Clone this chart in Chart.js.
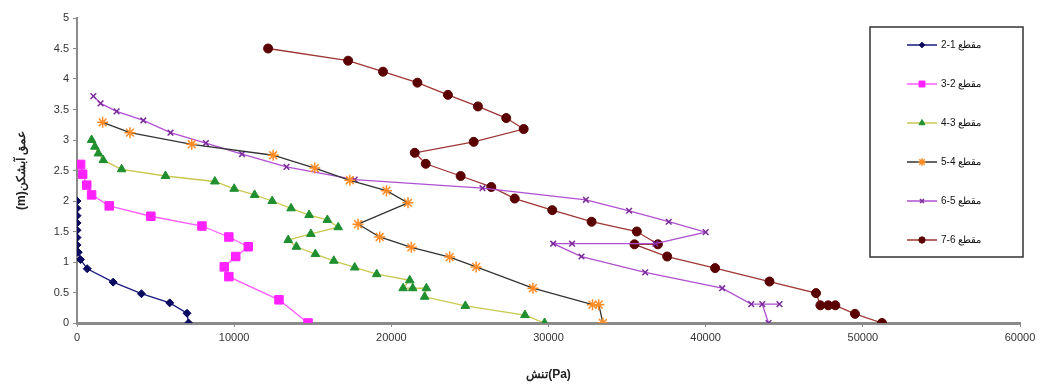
<!DOCTYPE html>
<html>
<head>
<meta charset="utf-8">
<script src="https://cdn.jsdelivr.net/npm/chart.js@4/dist/chart.umd.min.js"></script>
<style>
  html, body { margin: 0; padding: 0; background: #fff; }
  #wrap { width: 1045px; height: 388px; }
</style>
</head>
<body>
<div id="wrap"><canvas id="chart-depth"></canvas></div>
<script>
const sectionNames = ['2-1 مقطع', '3-2 مقطع', '4-3 مقطع', '5-4 مقطع', '6-5 مقطع', '7-6 مقطع'];
const xTicks = [0, 10000, 20000, 30000, 40000, 50000, 60000];
const yTicks = [0, 0.5, 1, 1.5, 2, 2.5, 3, 3.5, 4, 4.5, 5];

// stress (Pa) / depth (m) for each section
const stress1 = [0, 0, 0, 0, 0, 0, 0, 80, 220, 650, 2300, 4100, 5900, 7000, 7100];
const depth1 = [2.0, 1.88, 1.76, 1.64, 1.52, 1.4, 1.28, 1.16, 1.04, 0.89, 0.67, 0.48, 0.33, 0.16, 0];

const stress2 = [230, 360, 620, 930, 2050, 4700, 7950, 9660, 10900, 10100, 9370, 9660, 12850, 14700];
const depth2 = [2.6, 2.44, 2.26, 2.1, 1.92, 1.75, 1.59, 1.41, 1.25, 1.09, 0.92, 0.76, 0.38, 0];

const stress3 = [930, 1140, 1360, 1670, 2840, 5630, 8770, 10000, 11300, 12420, 13620, 14770, 15930, 16620,
    14880, 13440, 13960, 15170, 16340, 17670, 19070, 21170, 20750, 21360, 22230, 22120, 24710, 28500, 29750];
const depth3 = [3.0, 2.89, 2.78, 2.67, 2.52, 2.41, 2.32, 2.2, 2.1, 2.0, 1.88, 1.77, 1.69, 1.57,
    1.46, 1.36, 1.25, 1.13, 1.02, 0.91, 0.8, 0.7, 0.57, 0.57, 0.57, 0.43, 0.28, 0.13, 0];

const stress4 = [1630, 3370, 7300, 12480, 15130, 17360, 19690, 21060, 17880, 19260, 21270, 23710, 25400, 29010, 32800, 33200, 33460];
const depth4 = [3.29, 3.12, 2.93, 2.75, 2.54, 2.34, 2.17, 1.97, 1.62, 1.41, 1.24, 1.08, 0.92, 0.57, 0.3, 0.3, 0];

const stress5 = [1040, 1500, 2520, 4220, 5950, 8200, 10500, 13330, 17670, 25800, 32380, 35130, 37650, 40000,
    36800, 31500, 30300, 32100, 36150, 41050, 42900, 44700, 43600, 44000];
const depth5 = [3.72, 3.6, 3.47, 3.32, 3.12, 2.95, 2.77, 2.56, 2.35, 2.21, 2.02, 1.84, 1.66, 1.49,
    1.3, 1.3, 1.3, 1.09, 0.83, 0.57, 0.31, 0.31, 0.31, 0];

const stress6 = [12160, 17250, 19470, 21660, 23600, 25510, 27310, 28420, 25240, 21490, 22190, 24410, 26360, 27850,
    30240, 32740, 35620, 36960, 35470, 37550, 40600, 44060, 47020, 47300, 47800, 48250, 49500, 51220];
const depth6 = [4.5, 4.3, 4.12, 3.94, 3.74, 3.55, 3.36, 3.18, 2.97, 2.79, 2.61, 2.41, 2.23, 2.04,
    1.85, 1.66, 1.5, 1.29, 1.29, 1.09, 0.9, 0.68, 0.49, 0.29, 0.29, 0.29, 0.15, 0];

const toPoints = (xs, ys) => xs.map((x, i) => ({ x: x, y: ys[i] }));

const styles = [
    { line: '#1a1a80', fill: '#0a0a60', style: 'rectRot', r: 4, bw: 1 },
    { line: '#ff5cff', fill: '#ff22ff', style: 'rect', r: 6, bw: 1 },
    { line: '#c8c850', fill: '#1f8f2f', style: 'triangle', r: 5, bw: 1 },
    { line: '#333333', fill: '#ff8c26', style: 'star', r: 5.5, bw: 1.5 },
    { line: '#b050d0', fill: '#7a2a9a', style: 'crossRot', r: 4, bw: 1.5 },
    { line: '#a03535', fill: '#5a0000', style: 'circle', r: 4.5, bw: 1 }
];
const series = [
    toPoints(stress1, depth1),
    toPoints(stress2, depth2),
    toPoints(stress3, depth3),
    toPoints(stress4, depth4),
    toPoints(stress5, depth5),
    toPoints(stress6, depth6)
];

const datasets = series.map((pts, i) => ({
    label: sectionNames[i],
    data: pts,
    showLine: true,
    tension: 0,
    borderColor: styles[i].line,
    borderWidth: 1.3,
    pointStyle: styles[i].style,
    pointRadius: styles[i].r,
    pointBackgroundColor: styles[i].fill,
    pointBorderColor: styles[i].fill,
    pointBorderWidth: styles[i].bw
}));

// excel style legend box sitting over the plot
const boxLegend = {
    id: 'boxLegend',
    afterDraw(chart) {
        const ctx = chart.ctx;
        ctx.save();
        ctx.fillStyle = '#fff';
        ctx.fillRect(870, 27, 153, 230);
        ctx.strokeStyle = '#333';
        ctx.lineWidth = 1.5;
        ctx.strokeRect(870, 27, 153, 230);
        chart.data.datasets.forEach((ds, i) => {
            const y = 45 + i * 39;
            ctx.strokeStyle = ds.borderColor;
            ctx.lineWidth = 1.5;
            ctx.beginPath();
            ctx.moveTo(907, y);
            ctx.lineTo(937, y);
            ctx.stroke();
            ctx.fillStyle = ds.pointBackgroundColor;
            ctx.strokeStyle = ds.pointBorderColor;
            ctx.lineWidth = ds.pointBorderWidth;
            Chart.helpers.drawPoint(ctx, { pointStyle: ds.pointStyle, radius: ds.pointRadius * 0.7, rotation: 0, borderWidth: ds.pointBorderWidth }, 922, y);
            ctx.fillStyle = '#111';
            ctx.font = '10px "Liberation Sans"';
            ctx.textBaseline = 'middle';
            ctx.textAlign = 'left';
            ctx.fillText(ds.label, 941, y);
        });
        ctx.restore();
    }
};

const config = {
    type: 'scatter',
    data: { datasets: datasets },
    options: {
        responsive: false,
        animation: false,
        layout: { padding: { left: 0, right: 25, top: 18, bottom: 0 } },
        plugins: {
            legend: { display: false },
            tooltip: { enabled: false }
        },
        scales: {
            x: {
                type: 'linear',
                min: 0,
                max: 60000,
                afterBuildTicks: (s) => { s.ticks = xTicks.map(v => ({ value: v })); },
                afterFit: (s) => { s.height = 65; },
                border: { color: '#8a8a8a', width: 3 },
                grid: { drawOnChartArea: false, drawTicks: true, tickLength: 4, color: '#8a8a8a' },
                ticks: {
                    color: '#333',
                    font: { family: 'Liberation Sans', size: 11 },
                    padding: 4,
                    maxRotation: 0,
                    callback: (v) => String(v)
                },
                title: {
                    display: true,
                    text: 'تنش(Pa)',
                    color: '#222',
                    font: { family: 'Liberation Sans', size: 12, weight: 'bold' },
                    padding: { top: 4, bottom: 6 }
                }
            },
            y: {
                type: 'linear',
                min: 0,
                max: 5,
                afterBuildTicks: (s) => { s.ticks = yTicks.map(v => ({ value: v })); },
                afterFit: (s) => { s.width = 77; },
                border: { color: '#8a8a8a', width: 2 },
                grid: { drawOnChartArea: false, drawTicks: true, tickLength: 4, color: '#8a8a8a' },
                ticks: {
                    color: '#333',
                    font: { family: 'Liberation Sans', size: 11 },
                    padding: 4,
                    callback: (v) => String(v)
                },
                title: {
                    display: true,
                    text: '(m)عمق آبشکن',
                    color: '#222',
                    font: { family: 'Liberation Sans', size: 12, weight: 'bold' },
                    padding: { top: 14, bottom: 4 }
                }
            }
        }
    },
    plugins: [boxLegend]
};

const canvas = document.getElementById('chart-depth');
canvas.width = 1045;
canvas.height = 388;
const depthChart = new Chart(canvas, config);
</script>
</body>
</html>
